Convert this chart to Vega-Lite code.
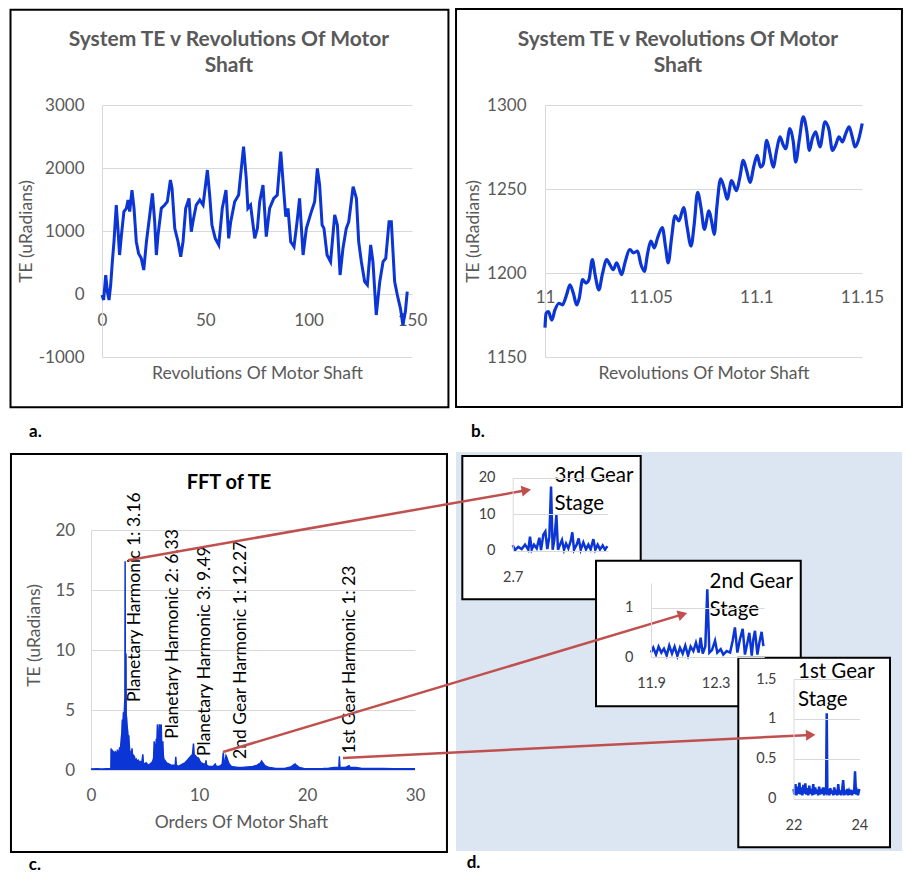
{
  "$schema": "https://vega.github.io/schema/vega-lite/v6.json",
  "width": 906,
  "height": 876,
  "autosize": {"type": "none"},
  "padding": 0,
  "background": "#ffffff",
  "config": {
    "view": {"stroke": null},
    "font": "Lato",
    "axis": {"domain": false, "ticks": false, "tickSize": 0, "grid": false, "labelFont": "Lato", "labelFontSize": 17, "labelColor": "#595959", "titleFont": "Lato", "titleFontSize": 17.5, "titleFontWeight": "normal", "titleColor": "#595959", "labelFlush": false, "labelOverlap": false, "gridColor": "#d9d9d9", "gridWidth": 1, "domainColor": "#d9d9d9", "domainWidth": 1}
  },
  "resolve": {"scale": {"x": "independent", "y": "independent"}},
  "datasets": {
    "te": [
      {"rev":0,"te":-16},{"rev":0.8,"te":-95},{"rev":1.8,"te":300},{"rev":2.6,"te":37},{"rev":3.4,"te":-95},{"rev":4.2,"te":143},{"rev":5,"te":513},{"rev":5.8,"te":830},{"rev":6.9,"te":1412},{"rev":7.7,"te":1042},{"rev":8.5,"te":619},{"rev":9.4,"te":936},{"rev":10.6,"te":1307},{"rev":11.8,"te":1360},{"rev":12.6,"te":1492},{"rev":13.4,"te":1307},{"rev":14.5,"te":1650},{"rev":15.5,"te":1360},{"rev":16.6,"te":830},{"rev":17.7,"te":645},{"rev":19,"te":566},{"rev":20.2,"te":381},{"rev":21.5,"te":830},{"rev":23.1,"te":1254},{"rev":24.4,"te":1598},{"rev":25.5,"te":1148},{"rev":26.3,"te":619},{"rev":27.1,"te":936},{"rev":28.7,"te":1360},{"rev":30.3,"te":1412},{"rev":31.6,"te":1465},{"rev":33.1,"te":1809},{"rev":33.9,"te":1677},{"rev":35.2,"te":1042},{"rev":36.8,"te":830},{"rev":38.1,"te":592},{"rev":39.2,"te":830},{"rev":40.5,"te":1360},{"rev":42.1,"te":1518},{"rev":43.2,"te":989},{"rev":44,"te":1148},{"rev":45.6,"te":1412},{"rev":47.3,"te":1492},{"rev":48.9,"te":1412},{"rev":51,"te":1968},{"rev":52.1,"te":1571},{"rev":53.2,"te":1095},{"rev":54.8,"te":883},{"rev":56.5,"te":778},{"rev":58.2,"te":1360},{"rev":60,"te":1650},{"rev":61.3,"te":883},{"rev":62.3,"te":1148},{"rev":64.2,"te":1465},{"rev":66.1,"te":1571},{"rev":68.5,"te":2338},{"rev":69.8,"te":1835},{"rev":70.6,"te":1360},{"rev":71.9,"te":1412},{"rev":73.9,"te":883},{"rev":75.2,"te":1042},{"rev":76.3,"te":1465},{"rev":77.9,"te":1730},{"rev":79.5,"te":910},{"rev":81.1,"te":1360},{"rev":83.1,"te":1518},{"rev":84.8,"te":1571},{"rev":86.5,"te":2259},{"rev":88.1,"te":1571},{"rev":88.9,"te":1227},{"rev":90,"te":1360},{"rev":91.3,"te":830},{"rev":92.9,"te":751},{"rev":94.4,"te":1148},{"rev":95.6,"te":1518},{"rev":97.3,"te":619},{"rev":98.9,"te":1042},{"rev":101.3,"te":1307},{"rev":102.9,"te":1465},{"rev":104.2,"te":1994},{"rev":105.3,"te":1730},{"rev":106.5,"te":1095},{"rev":107.4,"te":1042},{"rev":108.9,"te":619},{"rev":110.6,"te":513},{"rev":112.6,"te":1254},{"rev":113.9,"te":1095},{"rev":115.2,"te":302},{"rev":116.6,"te":725},{"rev":118.2,"te":1042},{"rev":119.4,"te":1148},{"rev":121.5,"te":1703},{"rev":123.1,"te":1518},{"rev":124.2,"te":830},{"rev":125.5,"te":513},{"rev":127.1,"te":196},{"rev":128.4,"te":143},{"rev":130,"te":778},{"rev":131.1,"te":513},{"rev":132.7,"te":-333},{"rev":134.4,"te":196},{"rev":136,"te":513},{"rev":137.3,"te":566},{"rev":138.9,"te":1148},{"rev":140,"te":1148},{"rev":141.6,"te":196},{"rev":142.9,"te":-16},{"rev":144.4,"te":-227},{"rev":145.6,"te":-492},{"rev":146.8,"te":-280},{"rev":147.7,"te":37}
    ],
    "zoom": [
      {"rev":11.0,"te":1167.5},{"rev":11.0005,"te":1176},{"rev":11.0016,"te":1177},{"rev":11.0032,"te":1172},{"rev":11.0047,"te":1178},{"rev":11.0066,"te":1182},{"rev":11.0082,"te":1181},{"rev":11.0102,"te":1187},{"rev":11.0118,"te":1193},{"rev":11.0134,"te":1188},{"rev":11.015,"te":1181},{"rev":11.0162,"te":1185},{"rev":11.0178,"te":1196},{"rev":11.0194,"te":1194},{"rev":11.0208,"te":1196},{"rev":11.0224,"te":1208},{"rev":11.0237,"te":1199},{"rev":11.0255,"te":1190},{"rev":11.0271,"te":1199},{"rev":11.0292,"te":1208},{"rev":11.0307,"te":1205},{"rev":11.0323,"te":1202},{"rev":11.0339,"te":1206},{"rev":11.0363,"te":1199},{"rev":11.0378,"te":1206},{"rev":11.0402,"te":1214},{"rev":11.0418,"te":1212},{"rev":11.0438,"te":1213},{"rev":11.0454,"te":1205},{"rev":11.047,"te":1201},{"rev":11.0486,"te":1212},{"rev":11.0501,"te":1219},{"rev":11.0517,"te":1215},{"rev":11.0533,"te":1221},{"rev":11.0555,"te":1227},{"rev":11.0571,"te":1215},{"rev":11.0583,"te":1206},{"rev":11.0599,"te":1221},{"rev":11.0615,"te":1234},{"rev":11.0634,"te":1231},{"rev":11.0656,"te":1239},{"rev":11.0673,"te":1227},{"rev":11.0691,"te":1216},{"rev":11.0706,"te":1229},{"rev":11.0722,"te":1248},{"rev":11.0738,"te":1239},{"rev":11.0754,"te":1226},{"rev":11.0776,"te":1237},{"rev":11.0788,"te":1231},{"rev":11.0801,"te":1223},{"rev":11.0813,"te":1239},{"rev":11.0831,"te":1256},{"rev":11.0849,"te":1250},{"rev":11.0862,"te":1244},{"rev":11.0883,"te":1255},{"rev":11.0906,"te":1249},{"rev":11.0922,"te":1257},{"rev":11.0938,"te":1267},{"rev":11.0954,"te":1261},{"rev":11.097,"te":1254},{"rev":11.0989,"te":1264},{"rev":11.1004,"te":1270},{"rev":11.102,"te":1263},{"rev":11.1033,"te":1265},{"rev":11.1049,"te":1279},{"rev":11.1065,"te":1271},{"rev":11.108,"te":1263},{"rev":11.1096,"te":1273},{"rev":11.1112,"te":1281},{"rev":11.1128,"te":1276},{"rev":11.1139,"te":1274},{"rev":11.1159,"te":1286},{"rev":11.1175,"te":1278},{"rev":11.1186,"te":1266},{"rev":11.1203,"te":1279},{"rev":11.1222,"te":1293},{"rev":11.1238,"te":1285},{"rev":11.1251,"te":1273},{"rev":11.1265,"te":1280},{"rev":11.1281,"te":1284},{"rev":11.1301,"te":1275},{"rev":11.1325,"te":1290},{"rev":11.1344,"te":1285},{"rev":11.136,"te":1273},{"rev":11.1375,"te":1276},{"rev":11.1391,"te":1281},{"rev":11.1407,"te":1278},{"rev":11.1423,"te":1283},{"rev":11.1439,"te":1287},{"rev":11.1454,"te":1281},{"rev":11.1467,"te":1275},{"rev":11.1483,"te":1279},{"rev":11.1501,"te":1289}
    ],
    "fft": [
      {"o":0,"a":0.08},{"o":0.5,"a":0.1},{"o":1,"a":0.08},{"o":1.5,"a":0.1},{"o":1.84,"a":0.1},{"o":1.86,"a":1.8},{"o":1.9,"a":1.2},{"o":1.95,"a":1.7},{"o":2.0,"a":1.3},{"o":2.05,"a":1.6},{"o":2.1,"a":1.2},{"o":2.15,"a":1.5},{"o":2.2,"a":1.1},{"o":2.25,"a":1.6},{"o":2.3,"a":1.3},{"o":2.35,"a":1.5},{"o":2.4,"a":1.2},{"o":2.45,"a":1.7},{"o":2.5,"a":1.3},{"o":2.55,"a":1.6},{"o":2.6,"a":1.4},{"o":2.65,"a":1.9},{"o":2.7,"a":1.5},{"o":2.75,"a":2.0},{"o":2.8,"a":2.6},{"o":2.85,"a":3.0},{"o":2.9,"a":4.2},{"o":2.95,"a":3.6},{"o":3.0,"a":4.8},{"o":3.05,"a":4.1},{"o":3.1,"a":5.2},{"o":3.14,"a":6.0},{"o":3.16,"a":17.4},{"o":3.18,"a":5.5},{"o":3.22,"a":5.0},{"o":3.24,"a":9.7},{"o":3.26,"a":4.6},{"o":3.3,"a":4.3},{"o":3.35,"a":3.6},{"o":3.4,"a":3.2},{"o":3.45,"a":2.6},{"o":3.5,"a":2.9},{"o":3.55,"a":2.0},{"o":3.6,"a":1.5},{"o":3.65,"a":1.3},{"o":3.7,"a":1.6},{"o":3.75,"a":1.2},{"o":3.8,"a":1.8},{"o":3.85,"a":1.1},{"o":3.9,"a":1.3},{"o":3.95,"a":0.9},{"o":4.0,"a":1.2},{"o":4.1,"a":0.8},{"o":4.2,"a":0.9},{"o":4.3,"a":0.7},{"o":4.4,"a":0.8},{"o":4.5,"a":0.6},{"o":4.6,"a":0.7},{"o":4.7,"a":0.6},{"o":4.8,"a":1.3},{"o":4.85,"a":0.6},{"o":4.95,"a":0.5},{"o":5.1,"a":0.6},{"o":5.3,"a":0.4},{"o":5.5,"a":0.5},{"o":5.7,"a":0.7},{"o":5.8,"a":1.0},{"o":5.85,"a":2.4},{"o":5.9,"a":1.6},{"o":5.95,"a":2.2},{"o":6.0,"a":1.9},{"o":6.05,"a":2.6},{"o":6.1,"a":2.4},{"o":6.15,"a":3.8},{"o":6.2,"a":2.6},{"o":6.25,"a":2.3},{"o":6.3,"a":3.0},{"o":6.33,"a":3.8},{"o":6.38,"a":3.0},{"o":6.45,"a":3.6},{"o":6.5,"a":3.8},{"o":6.55,"a":2.0},{"o":6.6,"a":1.5},{"o":6.65,"a":2.4},{"o":6.7,"a":1.2},{"o":6.75,"a":0.9},{"o":6.85,"a":0.8},{"o":7.0,"a":0.6},{"o":7.2,"a":0.5},{"o":7.4,"a":0.4},{"o":7.6,"a":0.4},{"o":7.8,"a":0.4},{"o":7.85,"a":1.1},{"o":7.9,"a":0.4},{"o":8.1,"a":0.3},{"o":8.3,"a":0.4},{"o":8.5,"a":0.5},{"o":8.7,"a":0.6},{"o":8.9,"a":0.8},{"o":9.0,"a":0.9},{"o":9.1,"a":1.0},{"o":9.2,"a":1.1},{"o":9.3,"a":1.2},{"o":9.4,"a":1.3},{"o":9.49,"a":2.2},{"o":9.55,"a":1.3},{"o":9.65,"a":1.2},{"o":9.75,"a":1.1},{"o":9.85,"a":1.0},{"o":9.95,"a":1.0},{"o":10.05,"a":0.8},{"o":10.2,"a":0.6},{"o":10.4,"a":0.5},{"o":10.6,"a":0.5},{"o":10.65,"a":0.8},{"o":10.7,"a":0.4},{"o":10.9,"a":0.3},{"o":11.1,"a":0.3},{"o":11.3,"a":0.3},{"o":11.5,"a":0.5},{"o":11.6,"a":0.3},{"o":11.8,"a":0.3},{"o":12.0,"a":0.35},{"o":12.15,"a":0.5},{"o":12.25,"a":1.45},{"o":12.3,"a":0.7},{"o":12.4,"a":0.6},{"o":12.5,"a":1.2},{"o":12.6,"a":1.0},{"o":12.7,"a":0.7},{"o":12.8,"a":0.5},{"o":13.0,"a":0.3},{"o":13.3,"a":0.25},{"o":13.6,"a":0.2},{"o":14.0,"a":0.2},{"o":14.5,"a":0.25},{"o":15.0,"a":0.3},{"o":15.4,"a":0.4},{"o":15.7,"a":0.6},{"o":15.8,"a":0.75},{"o":15.9,"a":0.6},{"o":16.1,"a":0.35},{"o":16.5,"a":0.2},{"o":17.0,"a":0.15},{"o":17.5,"a":0.12},{"o":18.0,"a":0.15},{"o":18.5,"a":0.25},{"o":18.8,"a":0.45},{"o":18.9,"a":0.5},{"o":19.0,"a":0.4},{"o":19.3,"a":0.2},{"o":19.7,"a":0.12},{"o":20.5,"a":0.1},{"o":21.5,"a":0.12},{"o":22.0,"a":0.15},{"o":22.5,"a":0.2},{"o":22.95,"a":0.2},{"o":23.0,"a":1.15},{"o":23.05,"a":0.2},{"o":23.5,"a":0.2},{"o":23.9,"a":0.35},{"o":24.0,"a":0.2},{"o":24.5,"a":0.2},{"o":25.0,"a":0.15},{"o":26.0,"a":0.12},{"o":27.0,"a":0.12},{"o":28.0,"a":0.1},{"o":29.0,"a":0.1},{"o":30.0,"a":0.1}
    ],
    "s3": [
      {"o":2.7,"a":1.5},{"o":2.727,"a":0.1},{"o":2.766,"a":1.0},{"o":2.806,"a":0.4},{"o":2.845,"a":1.6},{"o":2.884,"a":0.2},{"o":2.904,"a":3.8},{"o":2.924,"a":0.3},{"o":2.951,"a":1.6},{"o":2.983,"a":0.6},{"o":3.014,"a":3.5},{"o":3.034,"a":0.1},{"o":3.061,"a":4.3},{"o":3.085,"a":5.2},{"o":3.108,"a":0.4},{"o":3.132,"a":3.8},{"o":3.152,"a":17.5},{"o":3.171,"a":0.2},{"o":3.191,"a":2.9},{"o":3.215,"a":9.7},{"o":3.234,"a":0.2},{"o":3.258,"a":1.6},{"o":3.281,"a":2.9},{"o":3.305,"a":0.2},{"o":3.329,"a":1.9},{"o":3.356,"a":0.6},{"o":3.384,"a":2.6},{"o":3.403,"a":5.0},{"o":3.423,"a":0.2},{"o":3.454,"a":1.6},{"o":3.478,"a":3.3},{"o":3.502,"a":0.2},{"o":3.533,"a":2.2},{"o":3.564,"a":0.3},{"o":3.592,"a":1.6},{"o":3.619,"a":0.3},{"o":3.651,"a":3.1},{"o":3.674,"a":0.2},{"o":3.702,"a":1.6},{"o":3.729,"a":0.3},{"o":3.761,"a":1.4},{"o":3.788,"a":0.2},{"o":3.816,"a":1.2}
    ],
    "s2": [
      {"o":11.9,"a":0.09},{"o":11.914,"a":0.19},{"o":11.931,"a":0.05},{"o":11.947,"a":0.21},{"o":11.964,"a":0.09},{"o":11.98,"a":0.17},{"o":11.997,"a":0.03},{"o":12.013,"a":0.23},{"o":12.03,"a":0.07},{"o":12.046,"a":0.21},{"o":12.063,"a":0.02},{"o":12.079,"a":0.19},{"o":12.096,"a":0.07},{"o":12.112,"a":0.23},{"o":12.129,"a":0.03},{"o":12.145,"a":0.21},{"o":12.162,"a":0.12},{"o":12.178,"a":0.29},{"o":12.195,"a":0.09},{"o":12.207,"a":0.39},{"o":12.22,"a":0.07},{"o":12.236,"a":0.22},{"o":12.248,"a":1.37},{"o":12.261,"a":0.09},{"o":12.277,"a":0.14},{"o":12.296,"a":0.33},{"o":12.31,"a":0.09},{"o":12.331,"a":0.16},{"o":12.347,"a":0.05},{"o":12.368,"a":0.12},{"o":12.389,"a":0.09},{"o":12.405,"a":0.33},{"o":12.419,"a":0.6},{"o":12.434,"a":0.09},{"o":12.45,"a":0.36},{"o":12.467,"a":0.57},{"o":12.481,"a":0.05},{"o":12.496,"a":0.29},{"o":12.508,"a":0.49},{"o":12.523,"a":0.03},{"o":12.533,"a":0.36},{"o":12.543,"a":0.53},{"o":12.558,"a":0.05},{"o":12.57,"a":0.29},{"o":12.584,"a":0.51},{"o":12.595,"a":0.22}
    ],
    "s1": [
      {"o":22.0,"a":0.12},{"o":22.03,"a":0.05},{"o":22.06,"a":0.18},{"o":22.09,"a":0.04},{"o":22.12,"a":0.15},{"o":22.15,"a":0.06},{"o":22.18,"a":0.2},{"o":22.21,"a":0.05},{"o":22.24,"a":0.14},{"o":22.27,"a":0.04},{"o":22.3,"a":0.17},{"o":22.33,"a":0.06},{"o":22.36,"a":0.19},{"o":22.39,"a":0.05},{"o":22.42,"a":0.13},{"o":22.45,"a":0.04},{"o":22.48,"a":0.16},{"o":22.51,"a":0.06},{"o":22.54,"a":0.12},{"o":22.57,"a":0.04},{"o":22.6,"a":0.18},{"o":22.63,"a":0.05},{"o":22.66,"a":0.14},{"o":22.69,"a":0.06},{"o":22.72,"a":0.11},{"o":22.75,"a":0.04},{"o":22.78,"a":0.15},{"o":22.81,"a":0.05},{"o":22.84,"a":0.12},{"o":22.87,"a":0.06},{"o":22.9,"a":0.14},{"o":22.93,"a":0.04},{"o":22.96,"a":0.1},{"o":22.99,"a":0.08},{"o":23.01,"a":1.07},{"o":23.03,"a":0.05},{"o":23.06,"a":0.12},{"o":23.09,"a":0.04},{"o":23.12,"a":0.13},{"o":23.15,"a":0.06},{"o":23.18,"a":0.1},{"o":23.21,"a":0.04},{"o":23.24,"a":0.14},{"o":23.27,"a":0.05},{"o":23.3,"a":0.11},{"o":23.33,"a":0.04},{"o":23.36,"a":0.18},{"o":23.39,"a":0.05},{"o":23.42,"a":0.1},{"o":23.45,"a":0.04},{"o":23.48,"a":0.12},{"o":23.51,"a":0.23},{"o":23.54,"a":0.04},{"o":23.57,"a":0.1},{"o":23.6,"a":0.05},{"o":23.63,"a":0.12},{"o":23.66,"a":0.04},{"o":23.69,"a":0.09},{"o":23.72,"a":0.05},{"o":23.75,"a":0.11},{"o":23.78,"a":0.04},{"o":23.81,"a":0.1},{"o":23.84,"a":0.06},{"o":23.87,"a":0.34},{"o":23.9,"a":0.05},{"o":23.93,"a":0.09},{"o":23.96,"a":0.04},{"o":24.0,"a":0.12}
    ],
    "notes": [
      {"label":"Planetary Harmonic 1: 3.16","lx":4.05,"ly":5.67},
      {"label":"Planetary Harmonic 2: 6.33","lx":7.59,"ly":2.61},
      {"label":"Planetary Harmonic 3: 9.49","lx":10.53,"ly":1.17},
      {"label":"2nd Gear Harmonic 1: 12.27","lx":13.92,"ly":0.92},
      {"label":"1st Gear Harmonic 1: 23","lx":23.95,"ly":1.36}
    ],
    "arrows": [
      {"fx":3.43,"fy":17.48,"tx":40.31,"ty":23.31},
      {"fx":12.22,"fy":1.5,"tx":54.78,"ty":12.97},
      {"fx":23.33,"fy":1.0,"tx":66.64,"ty":2.92}
    ]
  },
  "layer": [
    {
      "layer": [
        {
          "data": {"name": "te"},
          "mark": {"type": "line", "color": "#0b35d4", "strokeWidth": 3, "clip": false},
          "encoding": {
            "x": {"field": "rev", "type": "quantitative",
                  "scale": {"domain": [0, 150], "range": [102, 412], "nice": false, "zero": false},
                  "axis": {"orient": "bottom", "offset": -582, "values": [0, 50, 100, 150], "format": "d", "labelPadding": 26, "labelBaseline": "middle", "title": "Revolutions Of Motor Shaft", "titleY": 79, "titleBaseline": "middle"}},
            "y": {"field": "te", "type": "quantitative",
                  "scale": {"domain": [-1000, 3000], "range": [357, 105], "nice": false, "zero": false},
                  "axis": {"orient": "left", "offset": -102, "values": [-1000, 0, 1000, 2000, 3000], "format": "d", "labelExpr": "replace(format(datum.value, 'd'), '\u2212', '-')", "labelPadding": 18, "grid": true, "domain": true, "title": "TE (uRadians)", "titleX": -76, "titleY": 231, "titleAngle": -90, "titleBaseline": "middle", "titleAlign": "center"}}
          }
        },
        {
          "data": {"values": [{"t": "System TE v Revolutions Of Motor\nShaft"}]},
          "mark": {"type": "text", "font": "Lato", "fontSize": 21, "fontWeight": "bold", "color": "#595959", "lineBreak": "\n", "lineHeight": 26, "align": "center", "baseline": "middle"},
          "encoding": {"text": {"field": "t"}, "x": {"datum": 61.4}, "y": {"datum": 4032}}
        },
        {
          "data": {"values": [{"t": "a."}]},
          "mark": {"type": "text", "font": "Lato", "fontSize": 17, "fontWeight": "bold", "color": "#000000", "align": "left", "baseline": "middle", "clip": false},
          "encoding": {"text": {"field": "t"}, "x": {"datum": -35.3}, "y": {"datum": -2190}}
        },
        {
          "data": {"values": [{"t": "frame"}]},
          "mark": {"type": "rect", "filled": false, "color": "#000000", "strokeWidth": 2, "clip": false},
          "encoding": {"x": {"datum": -44.27}, "x2": {"datum": 167.63}, "y": {"datum": 4511}, "y2": {"datum": -1798}}
        }
      ]
    },
    {
      "layer": [
        {
          "data": {"name": "zoom"},
          "mark": {"type": "line", "color": "#0b35d4", "strokeWidth": 3.2, "interpolate": "monotone", "clip": false},
          "encoding": {
            "x": {"field": "rev", "type": "quantitative",
                  "scale": {"domain": [11, 11.15], "range": [545, 862], "nice": false, "zero": false},
                  "axis": {"orient": "bottom", "offset": -603, "values": [11, 11.05, 11.1, 11.15], "format": ".2~f", "labelPadding": 24, "labelBaseline": "middle", "title": "Revolutions Of Motor Shaft", "titleY": 100, "titleBaseline": "middle"}},
            "y": {"field": "te", "type": "quantitative",
                  "scale": {"domain": [1150, 1300], "range": [357, 105], "nice": false, "zero": false},
                  "axis": {"orient": "left", "offset": -545, "values": [1150, 1200, 1250, 1300], "format": "d", "labelPadding": 19, "grid": true, "domain": true, "title": "TE (uRadians)", "titleX": -72, "titleY": 231, "titleAngle": -90, "titleBaseline": "middle", "titleAlign": "center"}}
          }
        },
        {
          "data": {"values": [{"t": "System TE v Revolutions Of Motor\nShaft"}]},
          "mark": {"type": "text", "font": "Lato", "fontSize": 21, "fontWeight": "bold", "color": "#595959", "lineBreak": "\n", "lineHeight": 26, "align": "center", "baseline": "middle"},
          "encoding": {"text": {"field": "t"}, "x": {"datum": 11.0629}, "y": {"datum": 1338.7}}
        },
        {
          "data": {"values": [{"t": "b."}]},
          "mark": {"type": "text", "font": "Lato", "fontSize": 17, "fontWeight": "bold", "color": "#000000", "align": "left", "baseline": "middle", "clip": false},
          "encoding": {"text": {"field": "t"}, "x": {"datum": 10.965}, "y": {"datum": 1105.4}}
        },
        {
          "data": {"values": [{"t": "frame"}]},
          "mark": {"type": "rect", "filled": false, "color": "#000000", "strokeWidth": 2, "clip": false},
          "encoding": {"x": {"datum": 10.9579}, "x2": {"datum": 11.1689}, "y": {"datum": 1357.1}, "y2": {"datum": 1120.2}}
        }
      ]
    },
    {
      "layer": [
        {
          "data": {"values": [{"t": "background"}]},
          "mark": {"type": "rect", "color": "#dce6f2", "clip": false},
          "encoding": {"x": {"datum": 2.031}, "x2": {"datum": 7.291}, "y": {"datum": 26.99}, "y2": {"datum": -82.33}}
        },
        {
          "data": {"values": [{"t": "frame"}]},
          "mark": {"type": "rect", "fill": "#ffffff", "stroke": "#000000", "strokeWidth": 2, "clip": false},
          "encoding": {"x": {"datum": 2.106}, "x2": {"datum": 4.209}, "y": {"datum": 25.89}, "y2": {"datum": -13.37}}
        },
        {
          "data": {"name": "s3"},
          "mark": {"type": "line", "color": "#0b35d4", "strokeWidth": 2.5, "clip": false},
          "encoding": {
            "x": {"field": "o", "type": "quantitative",
                  "scale": {"domain": [2.7, 3.82], "range": [512.7, 607.7], "nice": false, "zero": false},
                  "axis": {"orient": "bottom", "offset": -325.5, "values": [2.7], "format": "~g", "labelPadding": 26.5, "labelBaseline": "middle", "labelFontSize": 14.5, "labelColor": "#404040", "title": null, "zindex": 1}},
            "y": {"field": "a", "type": "quantitative",
                  "scale": {"domain": [0, 20], "range": [550.5, 477.5], "nice": false, "zero": false},
                  "axis": {"orient": "left", "offset": -512.7, "values": [0, 10, 20], "format": "d", "labelPadding": 17.7, "labelFontSize": 14.5, "labelColor": "#404040", "grid": true, "domain": true, "title": null, "zindex": 1}}
          }
        },
        {
          "data": {"values": [{"t": "3rd Gear\nStage"}]},
          "mark": {"type": "text", "font": "Lato", "fontSize": 20.5, "color": "#000000", "lineBreak": "\n", "lineHeight": 27.7, "align": "left", "baseline": "middle", "clip": false},
          "encoding": {"text": {"field": "t"}, "x": {"datum": 3.193}, "y": {"datum": 20.41}}
        },
        {
          "data": {"values": [{"t": "d."}]},
          "mark": {"type": "text", "font": "Lato", "fontSize": 17, "fontWeight": "bold", "color": "#000000", "align": "left", "baseline": "middle", "clip": false},
          "encoding": {"text": {"field": "t"}, "x": {"datum": 2.158}, "y": {"datum": -85.5}}
        }
      ]
    },
    {
      "layer": [
        {
          "data": {"values": [{"t": "frame"}]},
          "mark": {"type": "rect", "fill": "#ffffff", "stroke": "#000000", "strokeWidth": 2, "clip": false},
          "encoding": {"x": {"datum": 11.56}, "x2": {"datum": 12.826}, "y": {"datum": 1.953}, "y2": {"datum": -1.0}}
        },
        {
          "data": {"name": "s2"},
          "mark": {"type": "line", "color": "#0b35d4", "strokeWidth": 2.5, "clip": false},
          "encoding": {
            "x": {"field": "o", "type": "quantitative",
                  "scale": {"domain": [11.9, 12.6], "range": [651, 764.2], "nice": false, "zero": false},
                  "axis": {"orient": "bottom", "offset": -219, "values": [11.9, 12.3], "format": ".1f", "labelPadding": 26, "labelBaseline": "middle", "labelFontSize": 14.5, "labelColor": "#404040", "title": null, "zindex": 1}},
            "y": {"field": "a", "type": "quantitative",
                  "scale": {"domain": [0, 1.5], "range": [657, 583], "nice": false, "zero": false},
                  "axis": {"orient": "left", "offset": -651, "values": [0, 1], "format": "d", "labelPadding": 18, "labelFontSize": 14.5, "labelColor": "#404040", "grid": true, "domain": true, "title": null, "zindex": 1}}
          }
        },
        {
          "data": {"values": [{"t": "2nd Gear\nStage"}]},
          "mark": {"type": "text", "font": "Lato", "fontSize": 20.5, "color": "#000000", "lineBreak": "\n", "lineHeight": 27.7, "align": "left", "baseline": "middle", "clip": false},
          "encoding": {"text": {"field": "t"}, "x": {"datum": 12.262}, "y": {"datum": 1.521}}
        }
      ]
    },
    {
      "layer": [
        {
          "data": {"values": [{"t": "frame"}]},
          "mark": {"type": "rect", "fill": "#ffffff", "stroke": "#000000", "strokeWidth": 2, "clip": false},
          "encoding": {"x": {"datum": 20.322}, "x2": {"datum": 24.933}, "y": {"datum": 1.767}, "y2": {"datum": -0.612}}
        },
        {
          "data": {"name": "s1"},
          "mark": {"type": "line", "color": "#0b35d4", "strokeWidth": 2.5, "clip": false},
          "encoding": {
            "x": {"field": "o", "type": "quantitative",
                  "scale": {"domain": [22, 24], "range": [793.5, 859.3], "nice": false, "zero": false},
                  "axis": {"orient": "bottom", "offset": -77.5, "values": [22, 24], "format": "d", "labelPadding": 26.8, "labelBaseline": "middle", "labelFontSize": 14.5, "labelColor": "#404040", "title": null, "zindex": 1}},
            "y": {"field": "a", "type": "quantitative",
                  "scale": {"domain": [0, 1.5], "range": [798.5, 679], "nice": false, "zero": false},
                  "axis": {"orient": "left", "offset": -793.5, "values": [0, 0.5, 1, 1.5], "format": "~g", "labelPadding": 17.5, "labelFontSize": 14.5, "labelColor": "#404040", "grid": true, "domain": true, "title": null, "zindex": 1}}
          }
        },
        {
          "data": {"values": [{"t": "1st Gear\nStage"}]},
          "mark": {"type": "text", "font": "Lato", "fontSize": 20.5, "color": "#000000", "lineBreak": "\n", "lineHeight": 27.7, "align": "left", "baseline": "middle", "clip": false},
          "encoding": {"text": {"field": "t"}, "x": {"datum": 22.137}, "y": {"datum": 1.587}}
        }
      ]
    },
    {
      "layer": [
        {
          "data": {"name": "fft"},
          "mark": {"type": "area", "color": "#0b35d4", "clip": false},
          "encoding": {
            "x": {"field": "o", "type": "quantitative",
                  "scale": {"domain": [0, 30], "range": [91, 415], "nice": false, "zero": false},
                  "axis": {"orient": "bottom", "offset": -106, "values": [0, 10, 20, 30], "format": "d", "labelPadding": 25.3, "labelBaseline": "middle", "title": "Orders Of Motor Shaft", "titleX": 241, "titleY": 52, "titleBaseline": "middle", "titleAlign": "center"}},
            "y": {"field": "a", "type": "quantitative",
                  "scale": {"domain": [0, 20], "range": [770, 530], "nice": false, "zero": false},
                  "axis": {"orient": "left", "offset": -91, "values": [0, 5, 10, 15, 20], "format": "d", "labelPadding": 16.3, "grid": true, "domain": true, "title": "TE (uRadians)", "titleX": -56.3, "titleY": 635, "titleAngle": -90, "titleBaseline": "middle", "titleAlign": "center"}}
          }
        },
        {
          "data": {"name": "fft"},
          "mark": {"type": "line", "color": "#0b35d4", "strokeWidth": 1.5, "clip": false},
          "encoding": {"x": {"field": "o", "type": "quantitative"}, "y": {"field": "a", "type": "quantitative"}}
        },
        {
          "data": {"values": [{"t": "FFT of TE"}]},
          "mark": {"type": "text", "font": "Lato", "fontSize": 20, "fontWeight": "bold", "color": "#000000", "align": "center", "baseline": "middle"},
          "encoding": {"text": {"field": "t"}, "x": {"datum": 12.78}, "y": {"datum": 23.94}}
        },
        {
          "data": {"name": "notes"},
          "mark": {"type": "text", "font": "Lato", "fontSize": 17.5, "color": "#000000", "angle": 270, "align": "left", "baseline": "middle", "clip": false},
          "encoding": {"text": {"field": "label"}, "x": {"field": "lx", "type": "quantitative"}, "y": {"field": "ly", "type": "quantitative"}}
        },
        {
          "data": {"values": [{"t": "c."}]},
          "mark": {"type": "text", "font": "Lato", "fontSize": 17, "fontWeight": "bold", "color": "#000000", "align": "left", "baseline": "middle", "clip": false},
          "encoding": {"text": {"field": "t"}, "x": {"datum": -5.77}, "y": {"datum": -7.9}}
        },
        {
          "data": {"values": [{"t": "frame"}]},
          "mark": {"type": "rect", "filled": false, "color": "#000000", "strokeWidth": 2, "clip": false},
          "encoding": {"x": {"datum": -7.41}, "x2": {"datum": 32.96}, "y": {"datum": 26.33}, "y2": {"datum": -6.83}}
        },
        {
          "data": {"name": "arrows"},
          "mark": {"type": "rule", "color": "#c0504d", "strokeWidth": 2.5, "clip": false},
          "encoding": {"x": {"field": "fx", "type": "quantitative"}, "y": {"field": "fy", "type": "quantitative"}, "x2": {"field": "tx"}, "y2": {"field": "ty"}}
        },
        {
          "data": {"values": [{"t": "head"}]},
          "mark": {"type": "point", "shape": "triangle-right", "filled": true, "color": "#c0504d", "opacity": 1, "size": 120, "angle": -10, "clip": false},
          "encoding": {"x": {"datum": 40.31}, "y": {"datum": 23.31}}
        },
        {
          "data": {"values": [{"t": "head"}]},
          "mark": {"type": "point", "shape": "triangle-right", "filled": true, "color": "#c0504d", "opacity": 1, "size": 120, "angle": -16.7, "clip": false},
          "encoding": {"x": {"datum": 54.78}, "y": {"datum": 12.97}}
        },
        {
          "data": {"values": [{"t": "head"}]},
          "mark": {"type": "point", "shape": "triangle-right", "filled": true, "color": "#c0504d", "opacity": 1, "size": 120, "angle": -2.8, "clip": false},
          "encoding": {"x": {"datum": 66.64}, "y": {"datum": 2.92}}
        }
      ]
    }
  ]
}
